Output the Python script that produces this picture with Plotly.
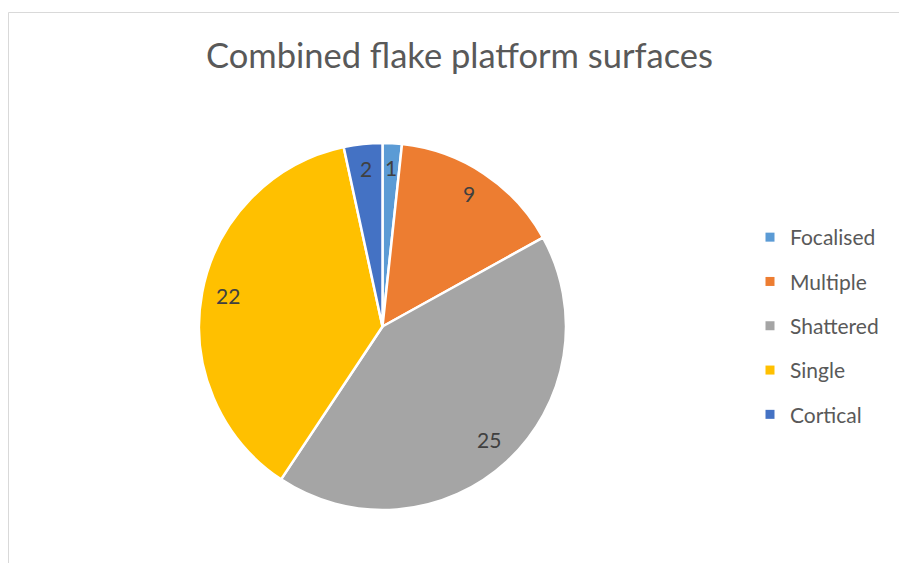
import numpy as np
import plotly.graph_objects as go

# Platform surface categories and flake counts
categories = ["Focalised", "Multiple", "Shattered", "Single", "Cortical"]
counts = [1, 9, 25, 22, 2]
colors = ["#5B9BD5", "#ED7D31", "#A5A5A5", "#FFC000", "#4472C4"]

W, H = 899, 563
FONT = "Lato"

# Pie placement in pixels (centre and radius)
cx, cy, R = 382.5, 326.5, 183.5

def px_x(v):
    return v / W

def px_y(v):
    return 1 - v / H

fig = go.Figure()

fig.add_trace(go.Pie(
    labels=categories,
    values=counts,
    marker=dict(colors=colors, line=dict(color="white", width=2.5)),
    sort=False,
    direction="clockwise",
    rotation=0,
    textinfo="none",
    hoverinfo="label+value",
    showlegend=False,
    domain=dict(x=[px_x(cx - R), px_x(cx + R)], y=[px_y(cy + R), px_y(cy - R)]),
))

# Legend entries, one group per category so the spacing can be set
for name, col in zip(categories, colors):
    fig.add_trace(go.Scatter(
        x=[None], y=[None], mode="markers", name=name, legendgroup=name,
        marker=dict(symbol="square", size=9, color=col),
        showlegend=True, hoverinfo="skip",
    ))

# Value labels placed along each slice's mid-angle
vals = np.array(counts, dtype=float)
ends = np.cumsum(vals)
mids = (ends - vals / 2) / vals.sum() * 2 * np.pi
annotations = []
for v, a in zip(counts, mids):
    x = cx + 0.855 * R * np.sin(a)
    y = cy - 0.855 * R * np.cos(a) - 2
    annotations.append(dict(
        x=px_x(x), y=px_y(y), xref="paper", yref="paper",
        text=str(v), showarrow=False,
        font=dict(family=FONT, size=21, color="#404040"),
        xanchor="center", yanchor="middle",
    ))

fig.update_layout(
    width=W, height=H,
    margin=dict(l=0, r=0, t=0, b=0),
    paper_bgcolor="white", plot_bgcolor="white",
    title=dict(
        text="Combined flake platform surfaces",
        x=px_x(459.5), xanchor="center", y=px_y(56), yanchor="middle",
        font=dict(family=FONT, size=34.5, color="#595959"),
    ),
    xaxis=dict(visible=False), yaxis=dict(visible=False),
    legend=dict(
        x=px_x(750), xanchor="left", y=px_y(217), yanchor="top",
        font=dict(family=FONT, size=21, color="#595959"),
        tracegroupgap=14, bgcolor="rgba(0,0,0,0)",
    ),
    annotations=annotations,
    shapes=[
        dict(type="line", xref="paper", yref="paper",
             x0=px_x(8.5), x1=1, y0=px_y(12.5), y1=px_y(12.5),
             line=dict(color="#D9D9D9", width=1)),
        dict(type="line", xref="paper", yref="paper",
             x0=px_x(8.5), x1=px_x(8.5), y0=0, y1=px_y(12.5),
             line=dict(color="#D9D9D9", width=1)),
    ],
)

fig.write_html("out.html")
